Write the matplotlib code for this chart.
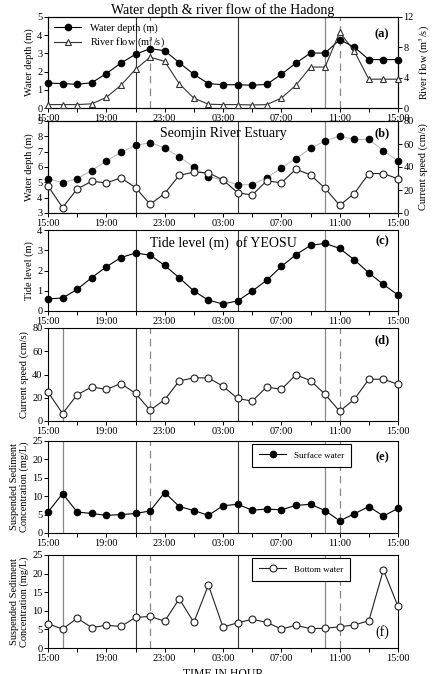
import matplotlib
matplotlib.use("Agg")
import matplotlib.pyplot as plt

plt.rcParams['font.family'] = ['Liberation Serif', 'DejaVu Serif']
plt.rcParams['font.size'] = 7.5
plt.rcParams['mathtext.fontset'] = 'stix'

# hourly samples, 15:00 -> 15:00 next day
hours = list(range(25))
tick_pos = [0, 4, 8, 12, 16, 20, 24]
tick_lab = ['15:00', '19:00', '23:00', '03:00', '07:00', '11:00', '15:00']

# (a) Hadong
hadong_depth = [1.37, 1.34, 1.30, 1.39, 1.89, 2.47, 2.95, 3.26, 3.15, 2.49, 1.85, 1.34, 1.28,
                1.28, 1.25, 1.30, 1.85, 2.47, 3.02, 3.02, 3.75, 3.35, 2.66, 2.66, 2.66]
river_flow = [0.45, 0.45, 0.45, 0.55, 1.4, 3.0, 5.1, 6.7, 6.15, 3.2, 1.3, 0.5, 0.45,
              0.45, 0.4, 0.45, 1.3, 3.0, 5.4, 5.4, 10.0, 7.5, 3.8, 3.8, 3.8]

# (b) Seomjin River Estuary
estuary_depth = [5.24, 4.98, 5.24, 5.77, 6.40, 6.95, 7.41, 7.58, 7.25, 6.66, 6.0, 5.37, 5.15,
                 4.85, 4.85, 5.3, 5.94, 6.55, 7.21, 7.71, 8.02, 7.80, 7.80, 7.06, 6.40]
estuary_speed = [23.5, 4.7, 20.9, 27.6, 26.2, 30.5, 22.1, 7.6, 16.9, 32.8, 35.5, 35.0, 28.7,
                 17.7, 15.6, 28.0, 26.2, 38.1, 33.1, 21.5, 6.7, 16.9, 34.3, 34.3, 29.7]

# (c) tide level of Yeosu
tide = [0.60, 0.64, 1.07, 1.65, 2.18, 2.64, 2.86, 2.76, 2.25, 1.64, 0.99, 0.53, 0.35,
        0.50, 0.98, 1.52, 2.20, 2.78, 3.24, 3.34, 3.09, 2.53, 1.88, 1.31, 0.79]

# (d) current speed
speed = [24.9, 6.4, 22.6, 29.3, 27.2, 32.2, 23.8, 9.3, 18.3, 34.5, 37.1, 37.1, 29.9,
         19.4, 17.1, 29.3, 27.2, 39.7, 34.8, 22.9, 8.4, 18.6, 35.9, 35.9, 31.6]

# (e) surface SSC, (f) bottom SSC
ssc_surface = [5.7, 10.7, 5.7, 5.3, 4.8, 5.0, 5.3, 6.0, 11.0, 7.2, 6.1, 4.8, 7.4,
               7.8, 6.2, 6.5, 6.3, 7.5, 7.8, 6.1, 3.3, 5.2, 7.2, 4.6, 6.7]
ssc_bottom = [6.5, 5.1, 8.0, 5.5, 6.1, 5.8, 8.2, 8.5, 7.2, 13.2, 6.9, 16.9, 5.6,
              6.8, 7.7, 6.9, 5.1, 6.1, 5.2, 5.3, 5.7, 6.2, 7.3, 21.0, 11.2]

fig = plt.figure(figsize=(4.4, 6.74), dpi=100)
W, H = 440.0, 674.0
left, width = 48 / W, 350 / W

def make_ax(top, bot):
    return fig.add_axes([left, 1 - bot / H, width, (bot - top) / H])

def style_x(ax):
    ax.set_xlim(0, 24)
    ax.set_xticks(tick_pos)
    ax.set_xticklabels(tick_lab)
    ax.set_xticks(range(2, 24, 4), minor=True)
    ax.tick_params(which='both', direction='out', length=3, width=0.7, pad=1, labelsize=7.5)
    for s in ax.spines.values():
        s.set_linewidth(0.8)

def vlines(ax, solid, dashed, gray_solid=()):
    for x in solid:
        ax.axvline(x, color='#333333', lw=0.8, zorder=1)
    for x in gray_solid:
        ax.axvline(x, color='#888888', lw=0.9, zorder=1)
    for x in dashed:
        ax.axvline(x, color='#888888', lw=0.9, ls=(0, (6, 4)), zorder=1)

filled = dict(color='black', marker='o', ms=4.5, mfc='black', mec='black', lw=0.8, clip_on=False)
hollow = dict(color='#222222', marker='o', ms=5, mfc='white', mec='#222222', mew=0.8, lw=0.8, clip_on=False)

# ---- (a)
ax = make_ax(17, 108)
vlines(ax, [6, 13], [7, 20], [19])
l1, = ax.plot(hours, hadong_depth, zorder=3, **filled)
ax.set_ylim(0, 5)
ax.set_yticks(range(6))
ax.set_ylabel('Water depth (m)', labelpad=2)
style_x(ax)
ax2 = ax.twinx()
l2, = ax2.plot(hours, river_flow, color='#333333', marker='^', ms=5, mfc='white', mec='#333333',
               mew=0.8, lw=0.8, clip_on=False, zorder=3)
ax2.set_ylim(0, 12)
ax2.set_yticks([0, 4, 8, 12])
ax2.set_ylabel('River flow (m$^3$/s)', labelpad=3)
ax2.tick_params(direction='out', length=3, width=0.7, pad=1, labelsize=7.5)
ax.legend([l1, l2], ['Water depth (m)', 'River flow (m$^3$/s)'], loc='upper left', frameon=False,
          fontsize=7.5, handlelength=2.6, borderaxespad=0.2, labelspacing=0.3)
ax.text(0.975, 0.88, '(a)', transform=ax.transAxes, ha='right', va='top', fontweight='bold', fontsize=9)
ax.set_title('Water depth & river flow of the Hadong', fontsize=10, pad=2)

# ---- (b)
ax = make_ax(121, 213)
vlines(ax, [6, 13], [], [19])
ax.plot(hours, estuary_depth, color='#bbbbbb', marker='o', ms=4.5, mfc='black', mec='black',
        lw=0.8, clip_on=False, zorder=3)
ax.set_ylim(3, 9)
ax.set_yticks(range(3, 10))
ax.set_ylabel('Water depth (m)', labelpad=2)
style_x(ax)
ax2 = ax.twinx()
ax2.plot(hours, estuary_speed, zorder=4, **hollow)
ax2.set_ylim(0, 80)
ax2.set_yticks(range(0, 81, 20))
ax2.set_ylabel('Current speed (cm/s)', labelpad=3)
ax2.tick_params(direction='out', length=3, width=0.7, pad=1, labelsize=7.5)
ax.text(0.5, 0.93, 'Seomjin River Estuary', transform=ax.transAxes, ha='center', va='top', fontsize=10)
ax.text(0.975, 0.93, '(b)', transform=ax.transAxes, ha='right', va='top', fontweight='bold', fontsize=9)

# ---- (c)
ax = make_ax(230, 311)
vlines(ax, [6, 13], [], [19])
ax.plot(hours, tide, zorder=3, **filled)
ax.set_ylim(0, 4)
ax.set_yticks(range(5))
ax.set_ylabel('Tide level (m)', labelpad=2)
style_x(ax)
ax.text(0.5, 0.93, 'Tide level (m)  of YEOSU', transform=ax.transAxes, ha='center', va='top', fontsize=10)
ax.text(0.975, 0.93, '(c)', transform=ax.transAxes, ha='right', va='top', fontweight='bold', fontsize=9)

# ---- (d)
ax = make_ax(328, 421)
vlines(ax, [6, 13], [7, 20], [1, 19])
ax.plot(hours, speed, zorder=3, **hollow)
ax.set_ylim(0, 80)
ax.set_yticks(range(0, 81, 20))
ax.set_ylabel('Current speed (cm/s)', labelpad=2)
style_x(ax)
ax.text(0.975, 0.93, '(d)', transform=ax.transAxes, ha='right', va='top', fontweight='bold', fontsize=9)

# ---- (e)
ax = make_ax(441, 533)
vlines(ax, [6, 13], [7, 20], [1, 19])
ax.plot(hours, ssc_surface, zorder=3, label='Surface water', **filled)
ax.set_ylim(0, 25)
ax.set_yticks(range(0, 26, 5))
ax.set_ylabel('Suspended Sediment\nConcentration (mg/L)', labelpad=2, linespacing=1.1)
style_x(ax)
leg = ax.legend(loc='upper left', bbox_to_anchor=(0.583, 0.967), fontsize=6.5, fancybox=False,
                edgecolor='black', framealpha=1, handlelength=3, borderpad=0.8, borderaxespad=0)
leg.get_frame().set_linewidth(0.8)
ax.text(0.975, 0.89, '(e)', transform=ax.transAxes, ha='right', va='top', fontweight='bold', fontsize=9)

# ---- (f)
ax = make_ax(555, 648)
vlines(ax, [6, 13], [7, 20], [1, 19])
ax.plot(hours, ssc_bottom, zorder=3, label='Bottom water', **hollow)
ax.set_ylim(0, 25)
ax.set_yticks(range(0, 26, 5))
ax.set_ylabel('Suspended Sediment\nConcentration (mg/L)', labelpad=2, linespacing=1.1)
style_x(ax)
leg = ax.legend(loc='upper left', bbox_to_anchor=(0.583, 0.967), fontsize=6.5, fancybox=False,
                edgecolor='black', framealpha=1, handlelength=3, borderpad=0.8, borderaxespad=0)
leg.get_frame().set_linewidth(0.8)
ax.text(0.975, 0.1, '(f)', transform=ax.transAxes, ha='right', va='bottom', fontsize=10)

fig.text(left + width / 2, 6 / H, 'TIME IN HOUR', ha='center', va='top', fontsize=8.5)

fig.savefig('out.png', dpi=100)
